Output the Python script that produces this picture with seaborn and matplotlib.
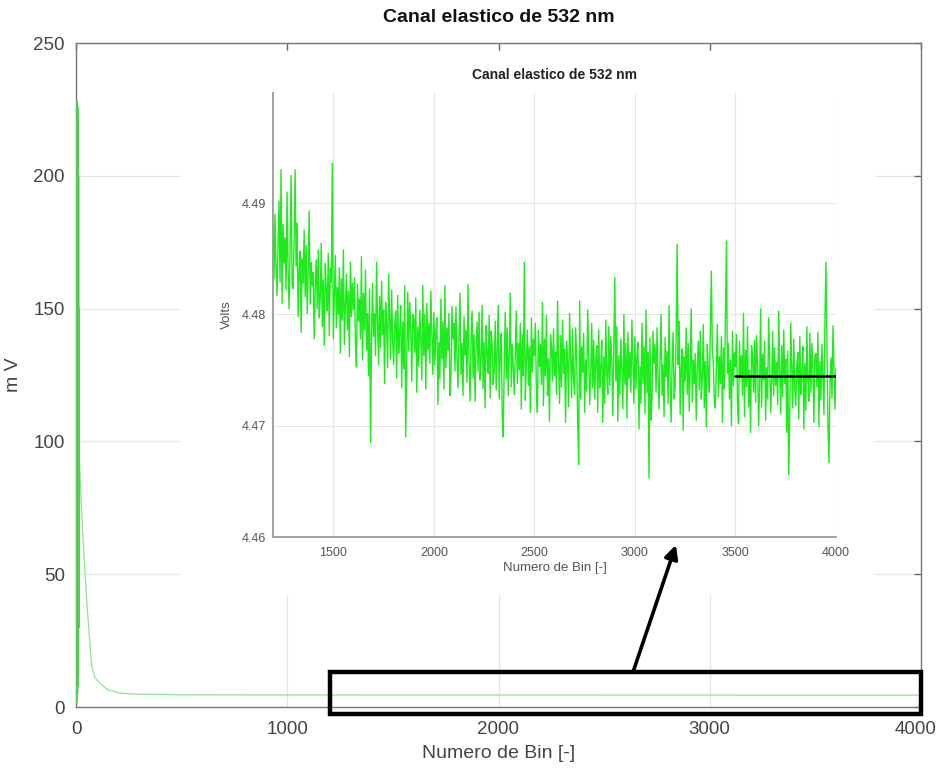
import numpy as np
import pandas as pd
import matplotlib
matplotlib.use("Agg")
import matplotlib.pyplot as plt
from matplotlib.patches import Rectangle
from matplotlib.transforms import ScaledTranslation
import seaborn as sns

# ---------------- data ----------------
# main trace: initial spike near bin 0
spike_bins = [0, 1, 2, 3, 4, 5, 6, 7, 8, 9, 10, 11]
spike_mv = [2, 228, 5, 226, 8, 222, 12, 200, 30, 150, 60, 98]

# main trace: decay and flat tail
decay_bins = [11, 15, 20, 25, 30, 35, 43, 50, 60, 74, 90, 114, 150, 208, 300,
              500, 1000, 1500, 2000, 2500, 3000, 3500, 4000]
decay_mv = [98, 95, 85, 76, 68, 61, 50, 41, 30, 15.5, 11, 8.9, 6.5, 5.2, 4.8,
            4.6, 4.52, 4.51, 4.5, 4.49, 4.49, 4.48, 4.48]

# zoomed trace (inset), one reading every 5 bins from 1200 to 4000
inset_bins = list(range(1200, 4001, 5))
inset_volts = [
    4.4875, 4.4832, 4.4890, 4.4844, 4.4817, 4.4864, 4.4902, 4.4829, 4.4930, 4.4810,
    4.4881, 4.4846, 4.4869, 4.4822, 4.4910, 4.4839, 4.4805, 4.4860, 4.4925, 4.4826,
    4.4823, 4.4868, 4.4930, 4.4843, 4.4882, 4.4798, 4.4838, 4.4857, 4.4784, 4.4850,
    4.4828, 4.4876, 4.4816, 4.4862, 4.4801, 4.4840, 4.4893, 4.4809, 4.4847, 4.4826,
    4.4838, 4.4778, 4.4826, 4.4849, 4.4805, 4.4858, 4.4797, 4.4815, 4.4864, 4.4789,
    4.4831, 4.4772, 4.4846, 4.4822, 4.4803, 4.4855, 4.4781, 4.4841, 4.4829, 4.4936,
    4.4778, 4.4817, 4.4853, 4.4788, 4.4824, 4.4800, 4.4842, 4.4765, 4.4832, 4.4795,
    4.4858, 4.4773, 4.4809, 4.4836, 4.4786, 4.4821, 4.4762, 4.4847, 4.4798, 4.4828,
    4.4804, 4.4833, 4.4772, 4.4753, 4.4827, 4.4794, 4.4814, 4.4778, 4.4852, 4.4759,
    4.4819, 4.4786, 4.4840, 4.4768, 4.4801, 4.4745, 4.4823, 4.4685, 4.4781, 4.4828,
    4.4780, 4.4801, 4.4763, 4.4847, 4.4794, 4.4755, 4.4816, 4.4770, 4.4830, 4.4782,
    4.4804, 4.4738, 4.4811, 4.4792, 4.4752, 4.4836, 4.4797, 4.4760, 4.4822, 4.4777,
    4.4755, 4.4791, 4.4803, 4.4743, 4.4817, 4.4765, 4.4784, 4.4808, 4.4734, 4.4793,
    4.4751, 4.4826, 4.4690, 4.4759, 4.4820, 4.4767, 4.4811, 4.4788, 4.4740, 4.4800,
    4.4796, 4.4766, 4.4815, 4.4730, 4.4789, 4.4754, 4.4804, 4.4777, 4.4741, 4.4826,
    4.4763, 4.4800, 4.4733, 4.4810, 4.4768, 4.4792, 4.4756, 4.4821, 4.4785, 4.4746,
    4.4802, 4.4755, 4.4786, 4.4797, 4.4719, 4.4775, 4.4742, 4.4814, 4.4760, 4.4793,
    4.4733, 4.4826, 4.4752, 4.4788, 4.4768, 4.4801, 4.4727, 4.4746, 4.4807, 4.4778,
    4.4792, 4.4749, 4.4807, 4.4761, 4.4734, 4.4781, 4.4819, 4.4746, 4.4774, 4.4727,
    4.4798, 4.4763, 4.4786, 4.4739, 4.4827, 4.4756, 4.4722, 4.4777, 4.4803, 4.4743,
    4.4782, 4.4722, 4.4770, 4.4793, 4.4749, 4.4802, 4.4741, 4.4759, 4.4808, 4.4733,
    4.4775, 4.4716, 4.4790, 4.4766, 4.4747, 4.4799, 4.4725, 4.4785, 4.4773, 4.4737,
    4.4749, 4.4794, 4.4732, 4.4769, 4.4808, 4.4724, 4.4764, 4.4783, 4.4710, 4.4690,
    4.4754, 4.4802, 4.4742, 4.4788, 4.4727, 4.4766, 4.4819, 4.4735, 4.4773, 4.4752,
    4.4728, 4.4767, 4.4803, 4.4738, 4.4774, 4.4750, 4.4792, 4.4715, 4.4782, 4.4745,
    4.4847, 4.4723, 4.4759, 4.4786, 4.4736, 4.4771, 4.4712, 4.4797, 4.4748, 4.4778,
    4.4763, 4.4792, 4.4731, 4.4712, 4.4786, 4.4753, 4.4773, 4.4737, 4.4811, 4.4718,
    4.4778, 4.4745, 4.4799, 4.4727, 4.4760, 4.4704, 4.4782, 4.4771, 4.4740, 4.4787,
    4.4745, 4.4766, 4.4728, 4.4812, 4.4759, 4.4720, 4.4781, 4.4735, 4.4795, 4.4747,
    4.4769, 4.4703, 4.4776, 4.4757, 4.4717, 4.4801, 4.4762, 4.4725, 4.4787, 4.4742,
    4.4728, 4.4788, 4.4762, 4.4707, 4.4665, 4.4812, 4.4724, 4.4771, 4.4748, 4.4783,
    4.4712, 4.4759, 4.4731, 4.4804, 4.4766, 4.4719, 4.4746, 4.4792, 4.4734, 4.4777,
    4.4724, 4.4760, 4.4772, 4.4712, 4.4786, 4.4734, 4.4753, 4.4777, 4.4703, 4.4762,
    4.4720, 4.4795, 4.4746, 4.4728, 4.4789, 4.4736, 4.4780, 4.4757, 4.4709, 4.4769,
    4.4833, 4.4740, 4.4789, 4.4704, 4.4763, 4.4728, 4.4778, 4.4751, 4.4715, 4.4800,
    4.4737, 4.4774, 4.4707, 4.4784, 4.4742, 4.4766, 4.4730, 4.4795, 4.4759, 4.4720,
    4.4780, 4.4733, 4.4764, 4.4775, 4.4697, 4.4753, 4.4720, 4.4792, 4.4738, 4.4771,
    4.4711, 4.4804, 4.4730, 4.4766, 4.4653, 4.4779, 4.4705, 4.4724, 4.4785, 4.4756,
    4.4773, 4.4730, 4.4788, 4.4742, 4.4715, 4.4762, 4.4800, 4.4727, 4.4755, 4.4708,
    4.4779, 4.4744, 4.4767, 4.4720, 4.4808, 4.4737, 4.4703, 4.4758, 4.4784, 4.4724,
    4.4735, 4.4780, 4.4863, 4.4755, 4.4794, 4.4710, 4.4750, 4.4769, 4.4696, 4.4762,
    4.4740, 4.4788, 4.4728, 4.4774, 4.4713, 4.4752, 4.4805, 4.4721, 4.4759, 4.4738,
    4.4765, 4.4705, 4.4753, 4.4776, 4.4732, 4.4785, 4.4724, 4.4742, 4.4791, 4.4716,
    4.4758, 4.4699, 4.4773, 4.4749, 4.4730, 4.4782, 4.4839, 4.4768, 4.4756, 4.4720,
    4.4716, 4.4755, 4.4791, 4.4726, 4.4762, 4.4738, 4.4780, 4.4703, 4.4770, 4.4733,
    4.4796, 4.4866, 4.4747, 4.4774, 4.4724, 4.4759, 4.4700, 4.4785, 4.4736, 4.4766,
    4.4753, 4.4782, 4.4721, 4.4702, 4.4776, 4.4743, 4.4763, 4.4727, 4.4801, 4.4708,
    4.4768, 4.4735, 4.4789, 4.4717, 4.4750, 4.4694, 4.4772, 4.4761, 4.4730, 4.4777,
    4.4721, 4.4781, 4.4755, 4.4700, 4.4734, 4.4805, 4.4717, 4.4764, 4.4741, 4.4776,
    4.4705, 4.4752, 4.4724, 4.4797, 4.4759, 4.4712, 4.4739, 4.4785, 4.4727, 4.4770,
    4.4736, 4.4757, 4.4719, 4.4803, 4.4750, 4.4711, 4.4772, 4.4726, 4.4786, 4.4738,
    4.4760, 4.4694, 4.4767, 4.4656, 4.4708, 4.4792, 4.4753, 4.4716, 4.4778, 4.4733,
    4.4718, 4.4754, 4.4766, 4.4706, 4.4780, 4.4728, 4.4747, 4.4771, 4.4697, 4.4756,
    4.4714, 4.4789, 4.4740, 4.4722, 4.4783, 4.4730, 4.4774, 4.4751, 4.4703, 4.4763,
    4.4765, 4.4735, 4.4784, 4.4699, 4.4758, 4.4723, 4.4773, 4.4746, 4.4710, 4.4795,
    4.4847, 4.4769, 4.4702, 4.4667, 4.4737, 4.4761, 4.4725, 4.4790, 4.4754, 4.4715,
    4.4752,
]

# reference level drawn in the inset
ref_bins = [3500, 4000]
ref_volts = [4.4745, 4.4745]

main_xticks = [0, 1000, 2000, 3000, 4000]
main_yticks = [0, 50, 100, 150, 200, 250]
inset_xticks = [1500, 2000, 2500, 3000, 3500, 4000]
inset_yticks = [4.46, 4.47, 4.48, 4.49]

title = "Canal elastico de 532 nm"
xlabel = "Numero de Bin [-]"

# ---------------- style ----------------
sns.set_theme(style="white")
plt.rcParams["font.family"] = ["Liberation Sans", "DejaVu Sans"]

W, H = 940, 769
fig = plt.figure(figsize=(W / 100, H / 100), dpi=100)
fig.patch.set_facecolor("white")

def fx(px):
    return px / W

def fy(py):
    return 1 - py / H

# ---------------- main axes ----------------
ax = fig.add_axes([fx(76), fy(707), fx(921) - fx(76), fy(43) - fy(707)])
ax.set_facecolor("white")
ax.set_axisbelow(True)
ax.grid(True, color="#e4e4e4", lw=0.9)

df_spike = pd.DataFrame({"bin": spike_bins, "mv": spike_mv})
df_decay = pd.DataFrame({"bin": decay_bins, "mv": decay_mv})
sns.lineplot(data=df_decay, x="bin", y="mv", ax=ax, color="#8fe48f", lw=0.9,
             estimator=None, sort=False, zorder=3)
sns.lineplot(data=df_spike, x="bin", y="mv", ax=ax, color="#55c855", lw=2.6,
             estimator=None, sort=False, zorder=3)

ax.set_xlim(0, 4000)
ax.set_ylim(0, 250)
ax.set_xticks(main_xticks)
ax.set_yticks(main_yticks)
ax.tick_params(direction="in", top=True, right=True, length=5, width=1,
               color="#666666", labelsize=13.5, labelcolor="#444444")
ax.tick_params(axis="x", pad=10)
ax.tick_params(axis="y", pad=8)
for s in ax.spines.values():
    s.set_color("#777777")
    s.set_linewidth(1.0)
# keep the last x tick label inside the figure edge
last = ax.get_xticklabels()[-1]
last.set_transform(last.get_transform() +
                   ScaledTranslation(-4 / 72, 0, fig.dpi_scale_trans))
ax.set_xlabel(xlabel, fontsize=14, color="#444444", labelpad=5)
ax.set_ylabel("m V", fontsize=14, color="#444444")
ax.yaxis.set_label_coords((22 - 76) / 845, 0.5)
ax.set_title(title, fontsize=14, fontweight="bold", color="#111111", pad=15)

# white area behind the inset (its label region)
ax.add_patch(Rectangle((fx(180), fy(595)), fx(875) - fx(180), fy(52) - fy(595),
                       transform=fig.transFigure, facecolor="white",
                       edgecolor="none", zorder=1.5))

# zoom box and arrow
ax.add_patch(Rectangle((1200, -2.6), 2800, 15.8, fill=False, edgecolor="black",
                       lw=3.2, clip_on=False, zorder=6))
ax.annotate("", xy=(2840, 61), xytext=(2637, 13.2), xycoords="data",
            arrowprops=dict(arrowstyle="-|>", color="black", lw=2.6,
                            mutation_scale=20, shrinkA=0, shrinkB=0),
            zorder=7, annotation_clip=False)

# ---------------- inset axes ----------------
ins = fig.add_axes([fx(273), fy(537), fx(836) - fx(273), fy(93) - fy(537)])
ins.set_facecolor("white")
ins.set_axisbelow(True)
ins.grid(True, color="#e6e6e6", lw=0.8)
df_in = pd.DataFrame({"bin": inset_bins, "volts": inset_volts})
sns.lineplot(data=df_in, x="bin", y="volts", ax=ins, color="#1eea1e", lw=1.0,
             estimator=None, sort=False)
df_ref = pd.DataFrame({"bin": ref_bins, "volts": ref_volts})
sns.lineplot(data=df_ref, x="bin", y="volts", ax=ins, color="black", lw=1.8,
             estimator=None, sort=False)
ins.set_xlim(1200, 4000)
ins.set_ylim(4.46, 4.4999)
ins.set_xticks(inset_xticks)
ins.set_yticks(inset_yticks)
ins.set_yticklabels([f"{v:.2f}" for v in inset_yticks])
ins.tick_params(direction="in", length=4, width=0.9, color="#777777",
                labelsize=9, labelcolor="#555555", pad=7)
ins.tick_params(axis="y", pad=5)
for side in ["top", "right"]:
    ins.spines[side].set_visible(False)
for side in ["left", "bottom"]:
    ins.spines[side].set_color("#999999")
    ins.spines[side].set_linewidth(1.3)
ins.set_xlabel(xlabel, fontsize=9.5, color="#555555", labelpad=2)
ins.set_ylabel("Volts", fontsize=9.5, color="#555555", labelpad=6)
ins.set_title(title, fontsize=10, fontweight="bold", color="#222222", pad=10)

fig.savefig("out.png", dpi=100)
